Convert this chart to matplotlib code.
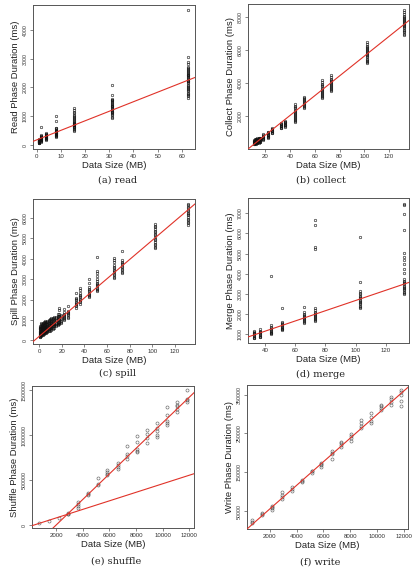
import matplotlib
matplotlib.use("Agg")
import matplotlib.pyplot as plt

# ---------------- data ----------------
read_sizes = [1, 2, 4, 8, 15.6, 31.3, 62.5]
read_durations = [
    [60, 80, 95, 105, 110, 120, 130, 135, 140, 150, 160, 170, 185, 200, 75, 90, 115, 125, 145, 165],
    [100, 130, 150, 170, 190, 200, 215, 230, 245, 260, 280, 300, 320, 350, 620, 180, 210, 240, 270],
    [180, 200, 220, 240, 255, 270, 285, 300, 315, 330, 350, 370, 390, 420, 260, 310, 340],
    [280, 300, 320, 340, 360, 380, 400, 420, 440, 460, 480, 500, 520, 550, 580, 600, 830, 1000, 390, 430, 470],
    [500, 530, 560, 590, 620, 650, 680, 700, 720, 750, 780, 810, 840, 870, 900, 930, 960, 1000, 1050,
     1100, 1150, 1220, 1300, 640, 690, 740],
    [950, 990, 1030, 1070, 1100, 1130, 1160, 1190, 1220, 1250, 1280, 1310, 1340, 1370, 1400, 1430,
     1460, 1490, 1520, 1550, 1580, 1610, 1750, 2100],
    [1650, 1700, 1740, 1780, 1820, 1860, 1900, 1940, 1980, 2020, 2060, 2100, 2140, 2180, 2210, 2240,
     2270, 2300, 2330, 2360, 2390, 2420, 2450, 2480, 2510, 2540, 2570, 2600, 2630, 2660, 2720, 2800,
     2880, 3050, 4700],
]
read_fit = (177, 33.2)  # intercept, slope

collect_sizes = [10.5, 11.5, 12.5, 13.5, 14.5, 16.0, 17.8, 22.0, 25.4, 32.4, 36.2, 43.7, 51.0, 65.8, 73.1, 102.5, 132.0]
collect_durations = [
    [300, 340, 370, 400, 430, 460, 500, 530, 560],
    [330, 360, 390, 420, 450, 480, 520, 560, 600],
    [350, 380, 420, 450, 490, 520, 560, 610, 650],
    [380, 410, 440, 480, 510, 550, 590, 630, 660],
    [400, 430, 470, 500, 540, 580, 620, 660, 690],
    [430, 470, 500, 540, 580, 620, 660, 700],
    [560, 600, 640, 680, 720, 770, 820, 870, 900],
    [670, 720, 760, 800, 850, 890, 930, 980, 1030, 1070],
    [970, 1010, 1050, 1090, 1130, 1170, 1210, 1250, 1280],
    [1270, 1310, 1350, 1390, 1430, 1470, 1510, 1550, 1600],
    [1370, 1410, 1460, 1500, 1540, 1590, 1630, 1680, 1730],
    [1650, 1720, 1790, 1850, 1910, 1970, 2030, 2090, 2150, 2210, 2270, 2330, 2400, 2470, 2550, 2640, 2750],
    [2480, 2540, 2600, 2660, 2720, 2780, 2840, 2900, 2960, 3020, 3080, 3150],
    [3100, 3170, 3240, 3300, 3360, 3420, 3480, 3540, 3600, 3660, 3730, 3800, 3880, 3960, 4100, 4200],
    [3520, 3590, 3660, 3720, 3780, 3840, 3900, 3960, 4020, 4080, 4140, 4200, 4270, 4350, 4480],
    [5200, 5280, 5350, 5420, 5490, 5560, 5620, 5680, 5740, 5800, 5860, 5920, 5980, 6040, 6100, 6170,
     6250, 6350, 6470],
    [6900, 6990, 7080, 7160, 7240, 7310, 7380, 7450, 7510, 7570, 7630, 7690, 7750, 7810, 7870, 7930,
     8000, 8080, 8170, 8280, 8420],
]
collect_fit = (-338, 59.7)

spill_sizes = [0.3, 1.0, 1.8, 2.6, 3.4, 4.3, 5.2, 6.2, 7.2, 8.3, 9.4, 10.6, 11.8, 13.2, 14.6, 16.2, 17.8,
               19.2, 22.0, 25.4, 32.4, 36.2, 43.7, 51.0, 65.8, 73.1, 102.5, 132.0]
spill_durations = [
    [150, 200, 240, 280, 330, 380, 430, 480, 540, 600],
    [180, 230, 270, 320, 370, 420, 470, 530, 590, 650, 720],
    [220, 260, 310, 350, 400, 450, 510, 570, 630, 700, 780, 850],
    [250, 300, 340, 390, 440, 490, 550, 610, 670, 740, 820],
    [280, 330, 380, 420, 470, 530, 590, 650, 720, 790, 860],
    [310, 360, 410, 460, 510, 570, 630, 700, 770, 840, 900],
    [340, 390, 440, 490, 550, 610, 670, 740, 810, 880, 940],
    [370, 420, 470, 530, 590, 650, 710, 780, 850, 920],
    [400, 450, 510, 570, 630, 690, 750, 820, 890, 960],
    [440, 490, 550, 610, 670, 730, 800, 870, 940, 1010],
    [470, 530, 590, 650, 710, 770, 840, 910, 980, 1050],
    [520, 580, 640, 700, 760, 830, 900, 970, 1040, 1100],
    [560, 620, 680, 740, 810, 880, 950, 1020, 1090],
    [620, 680, 740, 800, 870, 940, 1010, 1080, 1150],
    [680, 740, 800, 860, 930, 1000, 1070, 1140],
    [740, 800, 860, 920, 990, 1060, 1130, 1200, 1300],
    [790, 850, 910, 980, 1050, 1120, 1200, 1280, 1500, 1600],
    [840, 900, 970, 1040, 1110, 1180, 1260],
    [1000, 1050, 1100, 1150, 1200, 1250, 1300, 1400, 1550],
    [1100, 1160, 1220, 1280, 1340, 1400, 1450, 1700],
    [1600, 1660, 1720, 1780, 1840, 1900, 1960, 2020, 2080, 2300],
    [1800, 1860, 1920, 1980, 2040, 2100, 2160, 2220, 2300, 2450, 2550],
    [2100, 2160, 2220, 2280, 2340, 2400, 2460, 2520, 2600, 2800, 3000],
    [2400, 2460, 2520, 2580, 2640, 2700, 2760, 2820, 2900, 3000, 3150, 3300, 3400, 4100],
    [3050, 3120, 3190, 3260, 3330, 3400, 3470, 3540, 3610, 3700, 3850, 3950, 4050],
    [3300, 3370, 3440, 3510, 3580, 3650, 3720, 3790, 3860, 3920, 4400],
    [4500, 4580, 4660, 4740, 4820, 4900, 4980, 5060, 5140, 5220, 5300, 5380, 5460, 5540, 5620, 5720],
    [5650, 5730, 5810, 5890, 5970, 6050, 6120, 6190, 6260, 6330, 6400, 6470, 6540, 6610, 6680],
]
spill_fit = (194, 47.1)

merge_sizes = [32.5, 36.2, 43.5, 50.9, 65.7, 73.0, 102.7, 132.2]
merge_durations = [
    [800, 840, 880, 920, 960, 1000, 1040, 1080, 1120, 1170],
    [850, 890, 930, 970, 1010, 1050, 1090, 1130, 1180, 1240],
    [1000, 1040, 1080, 1120, 1160, 1200, 1250, 1300, 1360, 1450, 3880],
    [1200, 1240, 1280, 1320, 1360, 1400, 1440, 1490, 1540, 1600, 2320],
    [1550, 1600, 1650, 1700, 1750, 1800, 1850, 1900, 1960, 2020, 2100, 2360],
    [1650, 1700, 1750, 1800, 1850, 1900, 1950, 2000, 2050, 2100, 2200, 2300, 5220, 5320, 6430, 6680],
    [2300, 2360, 2420, 2480, 2540, 2600, 2660, 2720, 2780, 2840, 2900, 2980, 3060, 3150, 3600, 5850],
    [3000, 3060, 3120, 3180, 3240, 3300, 3360, 3420, 3480, 3540, 3600, 3660, 3720, 4020, 4240, 4490,
     4690, 4850, 5020, 6180, 6980, 7400, 7480],
]
merge_fit = (146, 25.3)

shuffle_sizes = [668, 1421, 2176, 2906, 3636, 4390, 5119, 5849, 6604, 7333, 8088, 8818, 9572, 10302, 11057, 11811]
shuffle_durations = [
    [22000], [48000], [78000],
    [122000, 130000, 137000],
    [192000, 210000, 236000, 262000],
    [340000, 350000, 358000],
    [447000, 455000, 525000],
    [554000, 570000, 595000, 617000],
    [628000, 650000, 670000, 691000],
    [735000, 765000, 795000, 876000],
    [820000, 830000, 850000, 930000, 987000],
    [913000, 968000, 1010000, 1060000],
    [979000, 1005000, 1045000, 1080000, 1135000],
    [1116000, 1135000, 1160000, 1230000, 1319000],
    [1264000, 1290000, 1330000, 1340000, 1367000],
    [1370000, 1393000, 1405000, 1504000],
]
shuffle_fits = [(-11400, 47.3), (-277100, 141.6)]

write_sizes = [668, 1421, 2176, 2906, 3636, 4390, 5119, 5849, 6604, 7333, 8088, 8818, 9572, 10302, 11057, 11811]
write_durations = [
    [18000, 22000, 27000],
    [40000, 42000, 44000],
    [53000, 57000, 61000, 64000],
    [81000, 86000, 92000, 98000],
    [101000, 106000, 111000],
    [126000, 128000, 130000],
    [149000, 152000, 154000],
    [164000, 168000, 172000, 175000],
    [185000, 196000, 200000, 205000],
    [216000, 220000, 225000, 229000],
    [231000, 238000, 243000, 248000],
    [263000, 270000, 277000, 284000],
    [276000, 283000, 293000, 304000],
    [310000, 315000, 320000, 323000],
    [323000, 330000, 338000, 345000],
    [321000, 333000, 350000, 356000, 362000],
]
write_fit = (-5790, 30.48)

# ---------------- figure ----------------
W, H = 418, 576
fig = plt.figure(figsize=(W / 100, H / 100), dpi=100)
SANS = ["Liberation Sans", "DejaVu Sans"]
SERIF = ["DejaVu Serif"]
RED = "#e03228"


def make_axes(l, r, t, b):
    return fig.add_axes([l / W, 1 - b / H, (r - l) / W, (b - t) / H])


panels = [
    dict(box=(33, 195, 5, 149), sizes=read_sizes, durs=read_durations, fits=[read_fit],
         xlim=(-1.5, 65.4), ylim=(-139, 4867), xt=[0, 10, 20, 30, 40, 50, 60],
         yt=[0, 1000, 2000, 3000, 4000], ylabel="Read Phase Duration (ms)",
         cap="(a) read", capy=180, capx=118, ms=1.8, mc="#111111"),
    dict(box=(248, 409, 4, 149), sizes=collect_sizes, durs=collect_durations, fits=[collect_fit],
         xlim=(6.0, 136.2), ylim=(20, 8788), xt=[20, 40, 60, 80, 100, 120],
         yt=[2000, 4000, 6000, 8000], ylabel="Collect Phase Duration (ms)",
         cap="(b) collect", capy=180, capx=321, ms=1.8, mc="#111111"),
    dict(box=(33, 195, 199, 344), sizes=spill_sizes, durs=spill_durations, fits=[spill_fit],
         xlim=(-5.5, 137.8), ylim=(-181, 6926), xt=[0, 20, 40, 60, 80, 100, 120],
         yt=[0, 1000, 2000, 3000, 4000, 5000, 6000], ylabel="Spill Phase Duration (ms)",
         cap="(c) spill", capy=373, capx=118, ms=1.8, mc="#111111"),
    dict(box=(248, 409, 198, 343), sizes=merge_sizes, durs=merge_durations, fits=[merge_fit],
         xlim=(28.5, 135.5), ylim=(568, 7761), xt=[40, 60, 80, 100, 120],
         yt=[1000, 2000, 3000, 4000, 5000, 6000, 7000], ylabel="Merge Phase Duration (ms)",
         cap="(d) merge", capy=374, capx=321, ms=1.8, mc="#111111"),
    dict(box=(32, 194, 386, 528), sizes=shuffle_sizes, durs=shuffle_durations, fits=shuffle_fits,
         xlim=(163, 12365), ylim=(-29600, 1548000), xt=[2000, 4000, 6000, 8000, 10000, 12000],
         yt=[0, 500000, 1000000, 1500000], ylabel="Shuffle Phase Duration (ms)",
         cap="(e) shuffle", capy=561, capx=116, ms=2.2, mc="#555555"),
    dict(box=(247, 408, 385, 529), sizes=write_sizes, durs=write_durations, fits=[write_fit],
         xlim=(308, 12298), ylim=(3600, 375000), xt=[2000, 4000, 6000, 8000, 10000, 12000],
         yt=[50000, 150000, 250000, 350000], ylabel="Write Phase Duration (ms)",
         cap="(f) write", capy=562, capx=320, ms=2.2, mc="#555555"),
]

for p in panels:
    l, r, t, b = p["box"]
    ax = make_axes(l, r, t, b)
    xs, ys = [], []
    for s, ds in zip(p["sizes"], p["durs"]):
        xs.extend([s] * len(ds))
        ys.extend(ds)
    ax.plot(xs, ys, linestyle="none", marker="o", markersize=p["ms"], markerfacecolor="none",
            markeredgecolor=p["mc"], markeredgewidth=0.45, alpha=0.9, zorder=2)
    for a0, m in p["fits"]:
        ax.axline((0, a0), slope=m, color=RED, lw=0.8, zorder=3)
    ax.set_xlim(*p["xlim"])
    ax.set_ylim(*p["ylim"])
    ax.set_xticks(p["xt"])
    ax.set_xticklabels([str(v) for v in p["xt"]], fontsize=4.4, family=SANS, color="#333333")
    ax.set_yticks(p["yt"])
    ax.set_yticklabels([str(v) for v in p["yt"]], fontsize=3.8, family=SANS, color="#333333",
                       rotation=90, va="center")
    ax.tick_params(length=2.2, width=0.5, color="#555555", pad=1.5)
    for sp in ax.spines.values():
        sp.set_color("#555555")
        sp.set_linewidth(0.7)
    ax.set_xlabel("Data Size (MB)", fontsize=6.8, family=SANS, color="#222222", labelpad=1.5)
    ax.set_ylabel(p["ylabel"], fontsize=6.8, family=SANS, color="#222222", labelpad=2)
    fig.text(p["capx"] / W, 1 - p["capy"] / H, p["cap"], ha="center", va="center",
             fontsize=7, family=SERIF, color="#222222")

fig.savefig("out.png", dpi=100)
